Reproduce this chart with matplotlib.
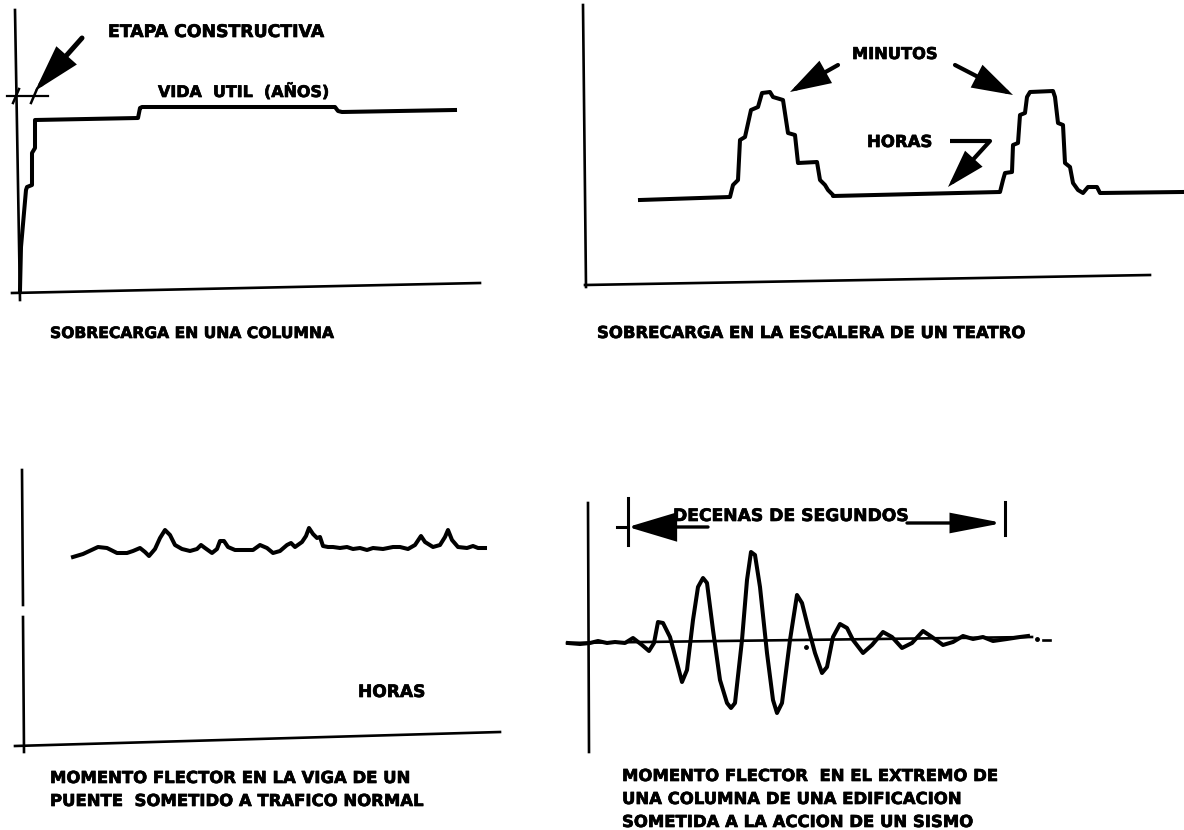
import matplotlib
matplotlib.use("Agg")
import matplotlib.pyplot as plt
import matplotlib.patheffects as pe

W, H = 1184, 830

# ---- panel 1: sobrecarga en una columna (origin at the axes corner)
col_t = [3, 4, 9, 10, 15, 15, 18, 18, 121, 123, 125, 318, 321, 325, 438]
col_q = [1, 44, 101, 104, 106, 138, 143, 171, 173, 183, 184, 184, 180, 179, 181]
col_yaxis = ([-2, 3], [281, -9])
col_xaxis = ([-5, 463], [-2, 8])
col_dim = ([-10, 31], [195, 195])
col_dim_ticks = [-1, 17]

# ---- panel 2: sobrecarga en la escalera de un teatro
esc_t = [56, 146, 149, 154, 156, 161, 167, 174, 178, 186, 189, 199, 204, 211,
         214, 233, 236, 241, 244, 249, 249, 416, 419, 421, 428, 429, 434, 436,
         441, 443, 446, 469, 471, 474, 479, 481, 486, 489, 494, 499, 504, 513,
         516, 598]
esc_q = [85, 88, 100, 105, 145, 148, 175, 178, 192, 193, 188, 185, 152, 150,
         122, 123, 105, 100, 95, 90, 89, 93, 105, 112, 113, 140, 142, 170,
         172, 188, 193, 194, 188, 162, 160, 122, 118, 102, 95, 92, 98, 98,
         92, 93]
esc_yaxis = ([-1, 2], [280, -2])
esc_xaxis = ([1, 566], [0, 10])

# ---- panel 3: momento flector en la viga de un puente
viga_t = [50, 60, 75, 84, 94, 104, 110, 117, 122, 126, 132, 137, 142, 147,
          152, 159, 167, 174, 178, 182, 189, 194, 197, 201, 205, 212, 230,
          237, 244, 250, 257, 264, 268, 272, 279, 283, 286, 290, 294, 297,
          300, 305, 310, 317, 324, 330, 337, 344, 350, 360, 370, 377, 385,
          392, 398, 402, 410, 417, 422, 425, 429, 435, 444, 450, 455, 462]
viga_m = [189, 192, 199, 198, 193, 193, 195, 198, 194, 190, 197, 208, 216,
          211, 201, 197, 195, 197, 201, 198, 193, 197, 205, 205, 199, 196,
          196, 201, 198, 193, 195, 201, 203, 199, 204, 210, 218, 212, 208,
          209, 200, 199, 199, 198, 199, 197, 198, 196, 198, 197, 199, 199,
          197, 201, 210, 204, 199, 201, 209, 216, 206, 199, 198, 200, 198, 198]
viga_yaxis_top = ([-1, 0], [276, 141])
viga_yaxis_bot = ([0, 1], [129, -6])
viga_xaxis = ([-8, 477], [0, 14])

# ---- panel 4: momento flector en una columna durante un sismo
sismo_t = [-20, -8, 2, 10, 19, 27, 37, 45, 54, 61, 66, 70, 75, 82, 89, 94,
           99, 105, 110, 115, 119, 125, 132, 139, 143, 147, 154, 159, 163,
           167, 172, 179, 185, 189, 194, 202, 209, 214, 220, 227, 234, 239,
           245, 252, 259, 265, 275, 284, 295, 304, 314, 324, 335, 344, 355,
           365, 375, 385, 395, 405, 419, 432, 440]
sismo_m = [0, -1, 0, 2, 0, 1, 0, 5, -2, -8, 0, 21, 20, 6, -20, -39, -27, 23,
           56, 65, 60, 13, -37, -60, -65, -60, 3, 63, 91, 88, 56, -10, -57,
           -70, -60, 3, 48, 40, 16, -10, -30, -24, 6, 19, 15, 3, -10, -2, 11,
           6, -5, 0, 12, 6, -2, 1, 7, 4, 6, 2, 4, 6, 7]
sismo_yaxis = ([0, 1], [140, -109])
sismo_zero = ([-21, 444], [0, 6])
sismo_tail_dash = ([455, 462], [3, 3])
sismo_tail_dots = ([449, 218], [4, -4])
sismo_ticks = ([40, 40, 417, 417], [145, 98, 141, 108])

fig = plt.figure(figsize=(W / 100, H / 100), dpi=100)
fig.patch.set_facecolor("white")
renderer = fig.canvas.get_renderer()


def panel(ox, oy):
    ax = fig.add_axes([0, 0, 1, 1])
    ax.set_xlim(-ox, W - ox)
    ax.set_ylim(oy - H, oy)
    ax.axis("off")
    return ax


def arrow(ax, tail, tip, hl, hw, lw):
    ax.annotate("", xy=tip, xytext=tail,
                arrowprops=dict(arrowstyle="-|>,head_length=%s,head_width=%s" % (hl, hw),
                                lw=lw, color="black", shrinkA=0, shrinkB=0,
                                mutation_scale=10, joinstyle="miter"))


txt = dict(family="DejaVu Sans", weight="bold", color="black", va="baseline",
           path_effects=[pe.withStroke(linewidth=0.5, foreground="black")])
FS = 11.2
LW = 2.9
AX_LW = 1.9


def label(obj, x, y, s, width=None, size=None):
    # size the lettering so that it spans the same width as in the drawing
    t = obj.text(x, y, s, fontsize=FS, **txt)
    if size is None:
        w = t.get_window_extent(renderer).width
        size = FS * width / w
    t.set_fontsize(size)
    return size


# panel 1
ax1 = panel(17, 291)
ax1.plot(*col_yaxis, color="black", lw=AX_LW)
ax1.plot(*col_xaxis, color="black", lw=AX_LW)
ax1.plot(*col_dim, color="black", lw=1.6)
for x in col_dim_ticks:
    ax1.plot([x - 3, x + 3], [188, 202], color="black", lw=1.8)
ax1.plot(col_t, col_q, color="black", lw=LW, solid_joinstyle="round")
arrow(ax1, (65, 253), (18, 200), 2.6, 0.75, 3.6)
label(ax1, 91, 254, "ETAPA CONSTRUCTIVA", 215)
label(ax1, 141, 194, "VIDA  UTIL  (AÑOS)", 170)

# panel 2
ax2 = panel(584, 285)
ax2.plot(*esc_yaxis, color="black", lw=AX_LW)
ax2.plot(*esc_xaxis, color="black", lw=AX_LW)
ax2.plot(esc_t, esc_q, color="black", lw=LW, solid_joinstyle="round")
arrow(ax2, (254, 220), (206, 193), 2.3, 0.72, 3.0)
arrow(ax2, (371, 220), (429, 190), 2.3, 0.72, 3.0)
label(ax2, 268, 226, "MINUTOS", 85)
label(ax2, 283, 138, "HORAS", 65)
ax2.plot([366, 406], [144, 144], color="black", lw=3.0, solid_capstyle="butt")
arrow(ax2, (406, 144), (364, 98), 2.1, 0.65, 3.0)

# panel 3
ax3 = panel(23, 746)
ax3.plot(*viga_yaxis_top, color="black", lw=AX_LW)
ax3.plot(*viga_yaxis_bot, color="black", lw=AX_LW)
ax3.plot(*viga_xaxis, color="black", lw=AX_LW)
ax3.plot(viga_t, viga_m, color="black", lw=LW, solid_joinstyle="round")
label(ax3, 335, 49, "HORAS", 67)

# panel 4
ax4 = panel(588, 643)
ax4.plot(*sismo_yaxis, color="black", lw=AX_LW)
ax4.plot(*sismo_zero, color="black", lw=AX_LW)
ax4.plot(*sismo_tail_dash, color="black", lw=AX_LW)
ax4.plot(*sismo_tail_dots, "o", color="black", ms=2.5)
ax4.plot(sismo_t, sismo_m, color="black", lw=LW, solid_joinstyle="round")
for i in range(0, 4, 2):
    ax4.plot(sismo_ticks[0][i:i + 2], sismo_ticks[1][i:i + 2], color="black", lw=2.2)
ax4.plot([29, 40], [116, 116], color="black", lw=2.2)
arrow(ax4, (120, 116), (40, 116), 3.0, 0.9, 2.4)
arrow(ax4, (319, 120), (415, 120), 3.1, 0.6, 2.4)
label(ax4, 85, 122, "DECENAS DE SEGUNDOS", 234)


# captions
def caption(x, y, s, width=None, size=None):
    return label(fig, x / W, 1 - y / H, s, width, size)


cap = caption(622, 781, "MOMENTO FLECTOR  EN EL EXTREMO DE", 373)
caption(622, 804, "UNA COLUMNA DE UNA EDIFICACION", size=cap)
caption(622, 827, "SOMETIDA A LA ACCION DE UN SISMO", size=cap)
caption(50, 338, "SOBRECARGA EN UNA COLUMNA", 282)
caption(597, 338, "SOBRECARGA EN LA ESCALERA DE UN TEATRO", size=cap)
caption(50, 783, "MOMENTO FLECTOR EN LA VIGA DE UN", size=cap)
caption(50, 806, "PUENTE  SOMETIDO A TRAFICO NORMAL", size=cap)

fig.savefig("out.png", dpi=100, facecolor="white")
